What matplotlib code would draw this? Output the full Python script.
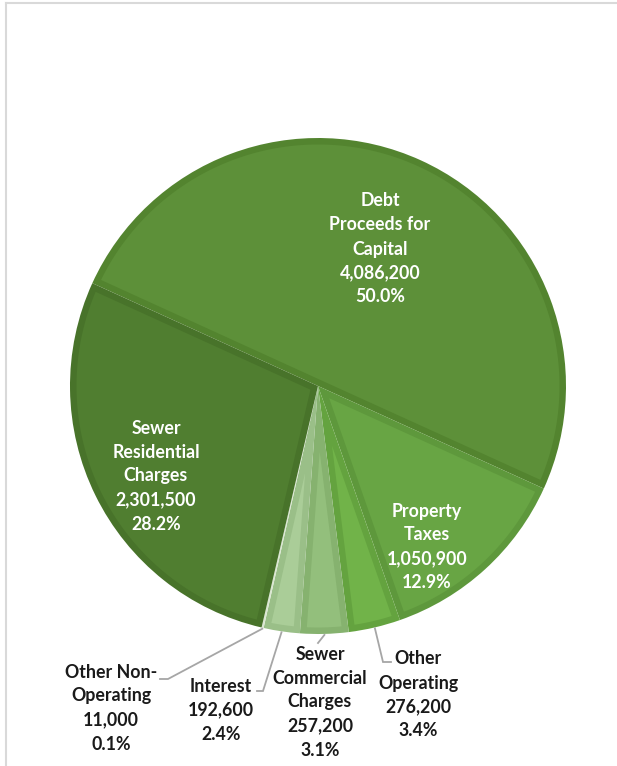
import matplotlib
matplotlib.use("Agg")
import matplotlib.pyplot as plt
import numpy as np
from matplotlib.lines import Line2D
from matplotlib.patches import Polygon

# Revenue sources, listed clockwise from the upper-left boundary
categories = [
    "Debt\nProceeds for\nCapital",
    "Property\nTaxes",
    "Other\nOperating",
    "Sewer\nCommercial\nCharges",
    "Interest",
    "Other Non-\nOperating",
    "Sewer\nResidential\nCharges",
]
amounts = [4086200, 1050900, 276200, 257200, 192600, 11000, 2301500]

fill_colors = ["#5d9039", "#68a544", "#71b349", "#93bf7c", "#aacd98", "#e4eedd", "#507e30"]
band_colors = ["#53842f", "#5e983c", "#64a33f", "#86b26f", "#9abf88", "#dbe7d2", "#48732a"]

W, H = 617, 766


def px(x, y):
    """Convert pixel coordinates (origin top-left) to axes data coordinates."""
    return (x, H - y)


fig = plt.figure(figsize=(W / 100, H / 100), dpi=100)
ax = fig.add_axes([0, 0, 1, 1])

cx, cy = px(318, 386)
R = 248
wedges, _ = ax.pie(
    amounts,
    colors=band_colors,
    startangle=155.5,
    counterclock=False,
    center=(cx, cy),
    radius=R,
    wedgeprops=dict(linewidth=0),
)


def inset_wedge(w, d):
    """Polygon for the slice interior, inset by d from every edge (None if too thin)."""
    a1, a2 = sorted((w.theta1, w.theta2))
    half = np.deg2rad(a2 - a1) / 2
    rho = R - d
    apex_dist = d / np.sin(half) if half < np.pi / 2 else d
    if apex_dist > rho * 0.8:
        return None
    mid = np.deg2rad(a1) + half
    ax_ = cx + apex_dist * np.cos(mid)
    ay_ = cy + apex_dist * np.sin(mid)
    da = np.arcsin(d / rho)
    t = np.linspace(np.deg2rad(a1) + da, np.deg2rad(a2) - da, 200)
    xs = np.concatenate([[ax_], cx + rho * np.cos(t)])
    ys = np.concatenate([[ay_], cy + rho * np.sin(t)])
    return np.column_stack([xs, ys])


# Bevel look: lighter slice face inside a darker rim band
for w, fc in zip(wedges, fill_colors):
    poly = inset_wedge(w, 6.5)
    if poly is not None:
        ax.add_patch(Polygon(poly, closed=True, facecolor=fc, edgecolor="none"))

ax.set_xlim(0, W)
ax.set_ylim(0, H)
ax.set_aspect("equal")
ax.axis("off")

total = sum(amounts)
labels = [f"{c}\n{a:,}\n{a / total * 100:.1f}%" for c, a in zip(categories, amounts)]

font = dict(family=["Lato", "DejaVu Sans"], fontweight="bold", fontsize=12.8,
            ha="center", va="center", multialignment="center", linespacing=1.5)

# label centers (pixels) for each slice
label_pos = [(380, 249), (427, 547), (418, 695), (320, 702), (221, 710), (111, 708), (156, 476)]
inside = [True, True, False, False, False, False, True]
for lab, pos, ins in zip(labels, label_pos, inside):
    ax.text(*px(*pos), lab, color="white" if ins else "#1a1a1a", **font)

# leader lines: from the slice rim to the label
leader_paths = {
    2: [(383, 662), (391, 662)],
    3: [(318, 643)],
    4: [(263, 691), (257, 691)],
    5: [(168, 679), (160, 679)],
}
for i, pts in leader_paths.items():
    w = wedges[i]
    mid = np.deg2rad((w.theta1 + w.theta2) / 2)
    x0 = cx + (R + 1) * np.cos(mid)
    y0 = cy + (R + 1) * np.sin(mid)
    xs = [x0] + [p[0] for p in pts]
    ys = [y0] + [H - p[1] for p in pts]
    ax.plot(xs, ys, color="#a6a6a6", lw=1.3, solid_joinstyle="miter")

# chart frame (left and top edges visible)
fig.add_artist(Line2D([6 / W, 6 / W], [0, 1 - 3 / H], color="#d9d9d9", lw=1.5))
fig.add_artist(Line2D([6 / W, 1], [1 - 3 / H, 1 - 3 / H], color="#d9d9d9", lw=1.5))

fig.savefig("out.png", dpi=100, facecolor="white")
